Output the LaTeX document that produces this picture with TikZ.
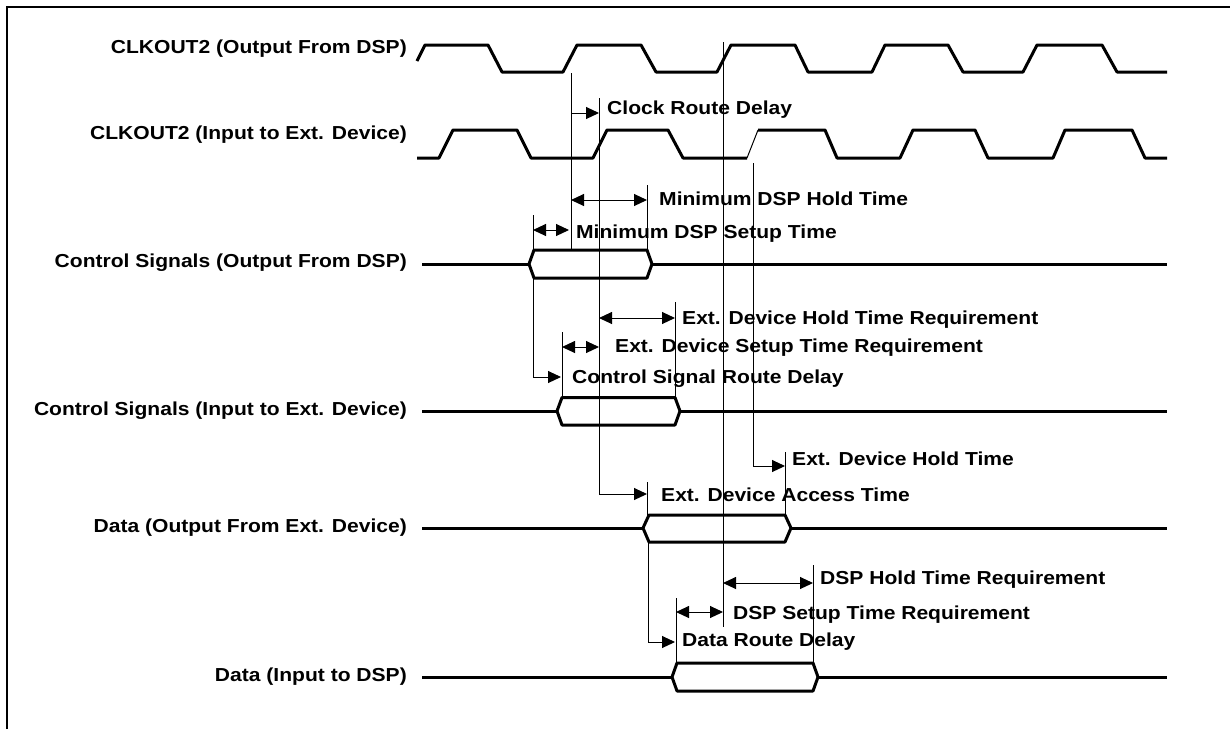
\documentclass[tikz,border=0pt]{standalone}
\usepackage{fontspec}
\setmainfont{Liberation Sans}[FakeStretch=1.12]
\usetikzlibrary{arrows.meta}
\begin{document}
\begin{tikzpicture}[x=1pt,y=-1pt,
  sig/.style={line width=3pt,line join=round},
  guide/.style={line width=1pt},
  tip/.tip={Triangle[length=13pt,width=12pt]},
  arr/.style={guide,-tip},
  darr/.style={guide,tip-tip},
  lab/.style={anchor=base east,inner sep=0pt,font=\fontsize{18.8}{22}\selectfont\bfseries},
  ann/.style={anchor=base west,inner sep=0pt,font=\fontsize{18.8}{22}\selectfont\bfseries}]
\useasboundingbox (0,0) rectangle (1230,729);
% frame
\draw[line width=2pt] (7,729) -- (7,7) -- (1230,7);

% signal labels
\node[lab] (l1) at (407,53) {CLKOUT2 (Output From DSP)};
\node[lab] (l2) at (407,139.5) {CLKOUT2 (Input to Ext. Device)};
\node[lab] (l3) at (407,267) {Control Signals (Output From DSP)};
\node[lab] (l4) at (407,415) {Control Signals (Input to Ext. Device)};
\node[lab] (l5) at (407,532) {Data (Output From Ext. Device)};
\node[lab] (l6) at (407,681) {Data (Input to DSP)};

% clock 1
\draw[sig] (417,61) -- (425,45) -- (488,45) -- (502,72) -- (563,72) -- (577,45) -- (641,45) -- (656,72)
  -- (717,72) -- (731,45) -- (795,45) -- (808,72) -- (872,72) -- (885,45) -- (948,45) -- (963,72)
  -- (1023,72) -- (1037,45) -- (1102,45) -- (1117,72) -- (1167,72);
% clock 2
\draw[sig] (417,158) -- (439,158) -- (453,130) -- (517,130) -- (531,158) -- (593,158) -- (607,130)
  -- (668,130) -- (683,158) -- (747,158);
\draw[guide] (747,158) -- (758,130);
\draw[sig] (758,130) -- (825,130) -- (837,158) -- (900,158) -- (913,130) -- (975,130) -- (988,158)
  -- (1053,158) -- (1065,130) -- (1132,130) -- (1145,158) -- (1167,158);

% control signals out
\draw[sig] (422,264) -- (529,264);
\draw[sig] (529,264) -- (534,250) -- (647,250) -- (652,264) -- (647,278) -- (534,278) -- cycle;
\draw[sig] (652,264) -- (1167,264);
% control signals in
\draw[sig] (422,411) -- (557,411);
\draw[sig] (557,411) -- (562,397.5) -- (675,397.5) -- (680,411) -- (675,425) -- (562,425) -- cycle;
\draw[sig] (680,411) -- (1167,411);
% data out
\draw[sig] (422,528) -- (643,528);
\draw[sig] (643,528) -- (649,515) -- (785,515) -- (791,528) -- (785,542) -- (649,542) -- cycle;
\draw[sig] (791,528) -- (1167,528);
% data in
\draw[sig] (422,677) -- (672,677);
\draw[sig] (672,677) -- (677,663) -- (813,663) -- (818,677) -- (813,691) -- (677,691) -- cycle;
\draw[sig] (818,677) -- (1167,677);

% guide lines
\draw[guide] (571,73) -- (571,250);
\draw[guide] (647,185) -- (647,250);
\draw[guide] (533,215) -- (533,250);
\draw[guide] (533,278) -- (533,377);
\draw[guide] (562,332) -- (562,398);
\draw[guide] (675,302) -- (675,398);
\draw[guide] (723,42) -- (723,627);
\draw[guide] (753,163) -- (753,466);
\draw[guide] (785,452) -- (785,515);
\draw[guide] (647,482) -- (647,515);
\draw[guide] (648,542) -- (648,642);
\draw[guide] (676,598) -- (676,663);
\draw[guide] (813,565) -- (813,663);
\draw[guide] (599,98) -- (599,494);

% arrows
\coordinate (crd1) at (571,113); \coordinate (crd2) at (599,113);
\draw[arr] (crd1) -- (crd2);
\node[ann] (t1) at (607,114) {Clock Route Delay};
\draw[darr] (571,200) -- (647,200);
\node[ann] (t2) at (659,205) {Minimum DSP Hold Time};
\draw[darr] (533,230) -- (569,230);
\node[ann] (t3) at (576,238) {Minimum DSP Setup Time};
\draw[darr] (599,318) -- (675,318);
\node[ann] (t4) at (682,324) {Ext. Device Hold Time Requirement};
\draw[darr] (562,347) -- (599,347);
\node[ann] (t5) at (615,352) {Ext. Device Setup Time Requirement};
\draw[arr] (533,377) -- (561,377);
\node[ann] (t6) at (572,383) {Control Signal Route Delay};
\draw[arr] (753,466) -- (785,466);
\node[ann] (t7) at (792,465) {Ext. Device Hold Time};
\draw[arr] (599,494) -- (647,494);
\node[ann] (t8) at (661,501) {Ext. Device Access Time};
\draw[darr] (723,583) -- (813,583);
\node[ann] (t9) at (820,584) {DSP Hold Time Requirement};
\draw[darr] (676,612) -- (723,612);
\node[ann] (t10) at (733,619) {DSP Setup Time Requirement};
\draw[arr] (648,642) -- (675,642);
\node[ann] (t11) at (682,646) {Data Route Delay};
\end{tikzpicture}
\end{document}
